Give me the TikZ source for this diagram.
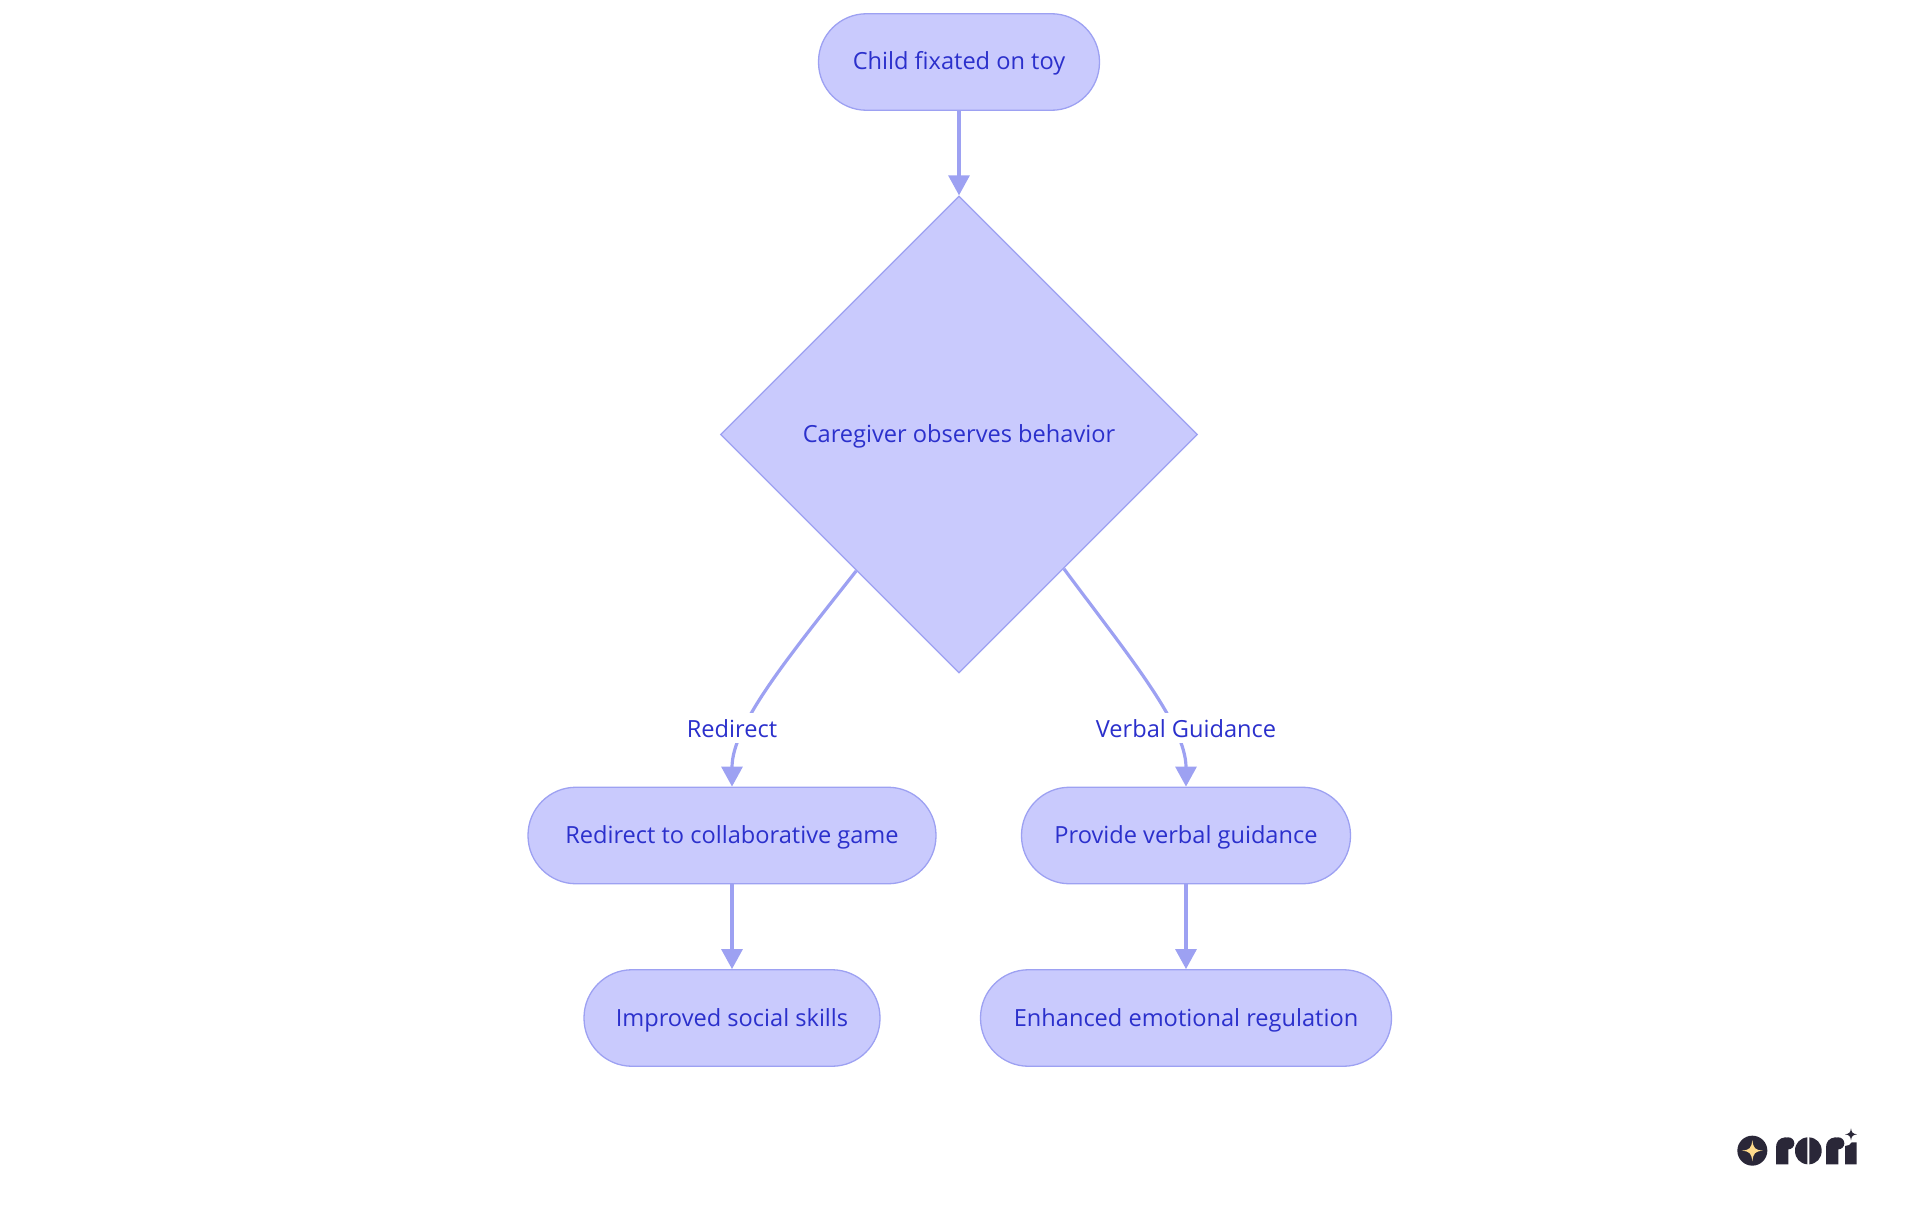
\documentclass[tikz,border=0pt]{standalone}
\usepackage{fontspec}
\setmainfont{Open Sans}
\usepackage{xcolor}
\usepackage{tikz}
\usetikzlibrary{arrows.meta, shapes.geometric}

\definecolor{NodeFill}{HTML}{C9CAFD}
\definecolor{NodeLine}{HTML}{9DA1F2}
\definecolor{NodeText}{HTML}{2B30CC}
\definecolor{LogoDark}{HTML}{2A2738}
\definecolor{LogoStar}{HTML}{FFDB8C}

\tikzset{
	pill/.style={draw=NodeLine, fill=NodeFill, text=NodeText, line width=1.3pt, rounded corners=48pt, minimum height=96.5pt, text height=21pt, text depth=5pt, font=\fontsize{23.6pt}{27pt}\selectfont},
	decision/.style={diamond, aspect=1, draw=NodeLine, fill=NodeFill, text=NodeText, line width=1.3pt, inner sep=0pt, minimum width=477pt, minimum height=477pt, text height=21pt, text depth=5pt, font=\fontsize{23.6pt}{27pt}\selectfont},
	edgelabel/.style={fill=white, text=NodeText, inner sep=1pt, text height=23pt, text depth=5pt, font=\fontsize{23.6pt}{27pt}\selectfont},
	link/.style={draw=NodeLine, line width=3.2pt, -{Triangle[length=20pt, width=21pt]}},
	logo/.style={fill=LogoDark, draw=none}
}

\begin{document}
\begin{tikzpicture}[x=1pt, y=-1pt]

	\useasboundingbox (0,0) rectangle (1920,1215);

	\node[pill, minimum width=281pt] (child) at (959,62) {Child fixated on toy};
	\node[decision] (caregiver) at (959,434.5) {Caregiver observes behavior};
	\node[pill, minimum width=408pt] (redirect) at (732,835.5) {Redirect to collaborative game};
	\node[pill, minimum width=329pt] (verbal) at (1186,835.5) {Provide verbal guidance};
	\node[pill, minimum width=296pt] (social) at (732,1018) {Improved social skills};
	\node[pill, minimum width=411pt] (emotional) at (1186,1018) {Enhanced emotional regulation};

	\draw[link] (child) -- (caregiver.north);
	\draw[link] (caregiver.233) .. controls (790,655) and (732,725) .. (redirect.north);
	\draw[link] (caregiver.308) .. controls (1128,655) and (1186,725) .. (verbal.north);
	\draw[link] (redirect) -- (social);
	\draw[link] (verbal) -- (emotional);

	\node[edgelabel] (labelredirect) at (732,728) {Redirect};
	\node[edgelabel] (labelverbal) at (1186,728) {Verbal Guidance};

	% logo, in 3x crop units
	\begin{scope}[shift={(1700,1110)}, x=0.3333pt, y=-0.3333pt]
		\fill[logo] (157,122) circle [radius=45];
		\fill[LogoStar] (157,90) .. controls (160,115) and (165,120) .. (189,122) .. controls (165,124) and (160,129) .. (157,154) .. controls (154,129) and (149,124) .. (125,122) .. controls (149,120) and (154,115) .. (157,90) -- cycle;
		\fill[logo] (228,163) -- (228,112) .. controls (228,95) and (238,84) .. (255,82) .. controls (262,82) and (265,84) .. (265,86) -- (265,163) -- cycle;
		\fill[logo] (265,100) circle [radius=18];
		\fill[logo] (322,82) .. controls (300,84) and (285,100) .. (285,122) .. controls (285,145) and (300,161) .. (322,163) -- cycle;
		\fill[logo] (328,82) .. controls (350,84) and (365,100) .. (365,122) .. controls (365,145) and (350,161) .. (328,163) -- cycle;
		\fill[logo] (378,163) -- (378,112) .. controls (378,95) and (388,84) .. (405,82) .. controls (412,82) and (415,84) .. (415,86) -- (415,163) -- cycle;
		\fill[logo] (415,100) circle [radius=18];
		\fill[logo] (435,163) -- (435,108) .. controls (445,108) and (452,104) .. (455,97) -- (470,97) -- (470,163) -- cycle;
		\fill[logo] (453,55) .. controls (455,68) and (458,71) .. (471,73) .. controls (458,75) and (455,78) .. (453,91) .. controls (451,78) and (448,75) .. (435,73) .. controls (448,71) and (451,68) .. (453,55) -- cycle;
	\end{scope}
\end{tikzpicture}
\end{document}
